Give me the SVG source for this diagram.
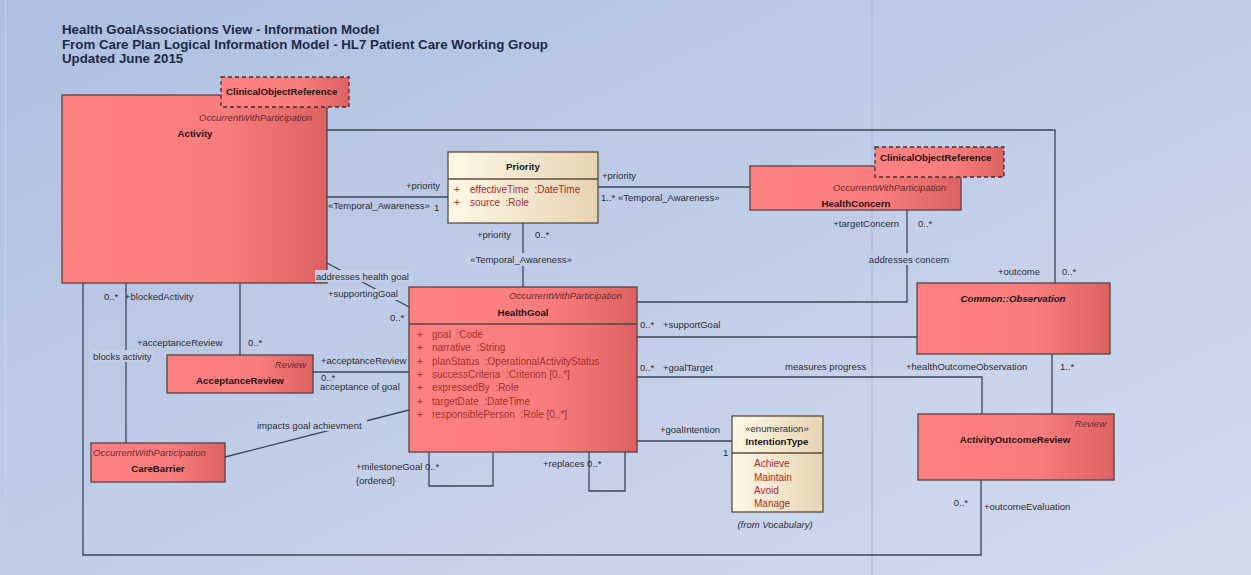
<svg xmlns="http://www.w3.org/2000/svg" width="1251" height="575" viewBox="0 0 1251 575">
  <defs>
    <linearGradient id="bg" x1="0" y1="0" x2="1" y2="1">
      <stop offset="0" stop-color="#AEBFE0"/>
      <stop offset="1" stop-color="#D3DBEE"/>
    </linearGradient>
    <linearGradient id="red" x1="0" y1="0" x2="1" y2="0">
      <stop offset="0" stop-color="#FF8080"/>
      <stop offset="0.6" stop-color="#FA7D7D"/>
      <stop offset="1" stop-color="#DC6262"/>
    </linearGradient>
    <linearGradient id="beige" x1="0" y1="0" x2="1" y2="0">
      <stop offset="0" stop-color="#FFF7E6"/>
      <stop offset="1" stop-color="#E6D4B2"/>
    </linearGradient>
    <style>
      text { font-family: "Liberation Sans", Arial, sans-serif; }
      .title { font-size: 13.3px; font-weight: bold; fill: #1C2A44; }
      .lbl { font-size: 9.5px; fill: #2C2E36; }
      .name { font-size: 9.7px; font-weight: bold; fill: #1E1414; }
      .st { font-size: 9.5px; font-style: italic; fill: #6A2C2C; }
      .attr { font-size: 10px; fill: #A3302C; white-space: pre; }
      .box { fill: url(#red); stroke: #574343; stroke-width: 1.3; }
      .ref { fill: url(#red); stroke: #4A2E2E; stroke-width: 1.3; stroke-dasharray: 4 3; }
      .cls { fill: url(#beige); stroke: #5A4C3C; stroke-width: 1.3; }
      .div { stroke: #5A4C3C; stroke-width: 1.3; }
      .conn { fill: none; stroke: #3A4656; stroke-width: 1.3; }
      .lblbg { fill: #C2CEE8; }
      .mid { text-anchor: middle; }
      .end { text-anchor: end; }
    </style>
  </defs>

  <!-- canvas -->
  <rect x="0" y="0" width="1251" height="575" fill="url(#bg)"/>
  <line x1="872" y1="0" x2="872" y2="575" stroke="#A6B6D4" stroke-width="1"/>
  <line x1="5.5" y1="0" x2="5.5" y2="575" stroke="#C6D0E8" stroke-width="1"/>

  <!-- heading -->
  <g id="heading">
    <text class="title" x="62" y="34">Health GoalAssociations View - Information Model</text>
    <text class="title" x="62" y="48.5">From Care Plan Logical Information Model - HL7 Patient Care Working Group</text>
    <text class="title" x="62" y="63">Updated June 2015</text>
  </g>

  <!-- classes -->
  <g id="activity">
    <rect class="box" x="62" y="95" width="265" height="188"/>
    <text class="st end" x="312" y="120.5">OccurrentWithParticipation</text>
    <text class="name mid" x="195" y="136.5">Activity</text>
  </g>
  <g id="activity-ref">
    <rect class="ref" x="221" y="77" width="128" height="30"/>
    <text class="name" x="226" y="94.5">ClinicalObjectReference</text>
  </g>

  <g id="priority">
    <rect class="cls" x="448" y="152" width="150" height="71"/>
    <line class="div" x1="448" y1="179" x2="598" y2="179"/>
    <text class="name mid" x="523" y="170">Priority</text>
    <text class="attr" x="454" y="192.5">+</text>
    <text class="attr" x="470" y="192.5">effectiveTime  :DateTime</text>
    <text class="attr" x="454" y="205.5">+</text>
    <text class="attr" x="470" y="205.5">source  :Role</text>
  </g>

  <g id="health-concern">
    <rect class="box" x="750" y="166" width="211" height="44"/>
    <text class="st end" x="946" y="190.5">OccurrentWithParticipation</text>
    <text class="name mid" x="856" y="206.5">HealthConcern</text>
  </g>
  <g id="health-concern-ref">
    <rect class="ref" x="875" y="147" width="129" height="30"/>
    <text class="name" x="880" y="160.5">ClinicalObjectReference</text>
  </g>

  <g id="observation">
    <rect class="box" x="917" y="283" width="193" height="71"/>
    <text class="name mid" x="1013" y="301.5" font-style="italic">Common::Observation</text>
  </g>

  <g id="activity-outcome-review">
    <rect class="box" x="918" y="414" width="196" height="66"/>
    <text class="st end" x="1106" y="426.5">Review</text>
    <text class="name mid" x="1015" y="442.5">ActivityOutcomeReview</text>
  </g>

  <g id="health-goal">
    <rect class="box" x="409" y="287" width="228" height="165"/>
    <line x1="409" y1="324" x2="637" y2="324" stroke="#574343" stroke-width="1.3"/>
    <text class="st end" x="622" y="298.5">OccurrentWithParticipation</text>
    <text class="name mid" x="523" y="315.5">HealthGoal</text>
    <text class="attr" x="417" y="337.5">+</text><text class="attr" x="432" y="337.5">goal  :Code</text>
    <text class="attr" x="417" y="351">+</text><text class="attr" x="432" y="351">narrative  :String</text>
    <text class="attr" x="417" y="364.5">+</text><text class="attr" x="432" y="364.5">planStatus  :OperationalActivityStatus</text>
    <text class="attr" x="417" y="377.5">+</text><text class="attr" x="432" y="377.5">successCriteria  :Criterion [0..*]</text>
    <text class="attr" x="417" y="391">+</text><text class="attr" x="432" y="391">expressedBy  :Role</text>
    <text class="attr" x="417" y="404.5">+</text><text class="attr" x="432" y="404.5">targetDate  :DateTime</text>
    <text class="attr" x="417" y="417.5">+</text><text class="attr" x="432" y="417.5">responsiblePerson  :Role [0..*]</text>
  </g>

  <g id="acceptance-review">
    <rect class="box" x="167" y="355" width="146" height="38"/>
    <text class="st end" x="306" y="367.5">Review</text>
    <text class="name mid" x="240" y="383.5">AcceptanceReview</text>
  </g>

  <g id="care-barrier">
    <rect class="box" x="91" y="443" width="134" height="39"/>
    <text class="st" x="93" y="455.5" fill="#8A2424">OccurrentWithParticipation</text>
    <text class="name mid" x="158" y="471.5">CareBarrier</text>
  </g>

  <g id="intention-type">
    <rect class="cls" x="732" y="416" width="91" height="96"/>
    <line class="div" x1="732" y1="453" x2="823" y2="453"/>
    <text class="lbl mid" x="777" y="431.5">«enumeration»</text>
    <text class="name mid" x="777" y="444.5">IntentionType</text>
    <text class="attr" x="754" y="466.5">Achieve</text>
    <text class="attr" x="754" y="480.5">Maintain</text>
    <text class="attr" x="754" y="493.5">Avoid</text>
    <text class="attr" x="754" y="506.5">Manage</text>
    <text class="lbl mid" x="775" y="527.5" font-style="italic">(from Vocabulary)</text>
  </g>

  <!-- associations, drawn last so their labels sit above the class boxes -->
  <g id="connectors">
    <path class="conn" d="M327,130 H1055 V283"/>
    <path class="conn" d="M327,197 H448"/>
    <path class="conn" d="M523,223 V287"/>
    <path class="conn" d="M598,187 H750"/>
    <path class="conn" d="M907,210 V302 H637"/>
    <path class="conn" d="M637,337 H917"/>
    <path class="conn" d="M637,377 H982 V414"/>
    <path class="conn" d="M1052,354 V414"/>
    <path class="conn" d="M981,480 V555 H83 V283"/>
    <path class="conn" d="M126,283 V443"/>
    <path class="conn" d="M240,283 V355"/>
    <path class="conn" d="M313,372 H409"/>
    <path class="conn" d="M327,263 L409,307"/>
    <path class="conn" d="M225,457 L409,410"/>
    <path class="conn" d="M429,452 V486 H493 V452"/>
    <path class="conn" d="M589,452 V491 H625 V452"/>
    <path class="conn" d="M637,441 H732"/>

    <!-- association names (with backing) -->
    <rect class="lblbg" x="315" y="270" width="98" height="12"/>
    <text class="lbl" x="316" y="279.5">addresses health goal</text>
    <rect class="lblbg" x="328" y="289" width="70" height="11"/>
    <text class="lbl" x="328" y="296.5">+supportingGoal</text>
    <text class="lbl" x="390" y="320.5">0..*</text>

    <text class="lbl" x="406" y="189">+priority</text>
    <text class="lbl" x="328" y="209">«Temporal_Awareness»</text>
    <text class="lbl" x="434" y="210.5">1</text>

    <text class="lbl" x="477" y="237.5">+priority</text>
    <text class="lbl" x="535" y="237.5">0..*</text>
    <rect class="lblbg" x="467" y="253" width="108" height="13"/>
    <text class="lbl mid" x="521" y="262.5">«Temporal_Awareness»</text>

    <text class="lbl" x="602" y="178.5">+priority</text>
    <text class="lbl" x="601" y="200.5">1..* «Temporal_Awareness»</text>

    <text class="lbl end" x="899" y="226.5">+targetConcern</text>
    <text class="lbl" x="918" y="226.5">0..*</text>
    <rect class="lblbg" x="866" y="253" width="86" height="12"/>
    <text class="lbl mid" x="909" y="262.5">addresses concern</text>

    <text class="lbl" x="998" y="274.5">+outcome</text>
    <text class="lbl" x="1062" y="274.5">0..*</text>

    <text class="lbl" x="640" y="327.5">0..*</text>
    <text class="lbl" x="663" y="327.5">+supportGoal</text>

    <text class="lbl" x="640" y="370.5">0..*</text>
    <text class="lbl" x="663" y="370.5">+goalTarget</text>
    <text class="lbl" x="785" y="369.5">measures progress</text>
    <text class="lbl" x="906" y="369.5">+healthOutcomeObservation</text>
    <text class="lbl" x="1060" y="369.5">1..*</text>

    <text class="lbl end" x="968" y="505.5">0..*</text>
    <text class="lbl" x="984" y="509.5">+outcomeEvaluation</text>

    <text class="lbl" x="104" y="299.5">0..*</text>
    <text class="lbl" x="125" y="299.5">+blockedActivity</text>
    <rect class="lblbg" x="92" y="350" width="62" height="12"/>
    <text class="lbl" x="93" y="359.5">blocks activity</text>

    <text class="lbl" x="137" y="345.5">+acceptanceReview</text>
    <text class="lbl" x="248" y="345.5">0..*</text>

    <text class="lbl" x="321" y="363.5">+acceptanceReview</text>
    <text class="lbl" x="321" y="380.5">0..*</text>
    <text class="lbl" x="320" y="390">acceptance of goal</text>

    <rect class="lblbg" x="256" y="419" width="111" height="12"/>
    <text class="lbl" x="257" y="428.5">impacts goal achievment</text>

    <text class="lbl" x="356" y="470">+milestoneGoal 0..*</text>
    <text class="lbl" x="356" y="483.5">{ordered}</text>
    <text class="lbl" x="543" y="466.5">+replaces 0..*</text>

    <text class="lbl" x="660" y="432.5">+goalIntention</text>
    <text class="lbl" x="723" y="455.5">1</text>
  </g>
</svg>
